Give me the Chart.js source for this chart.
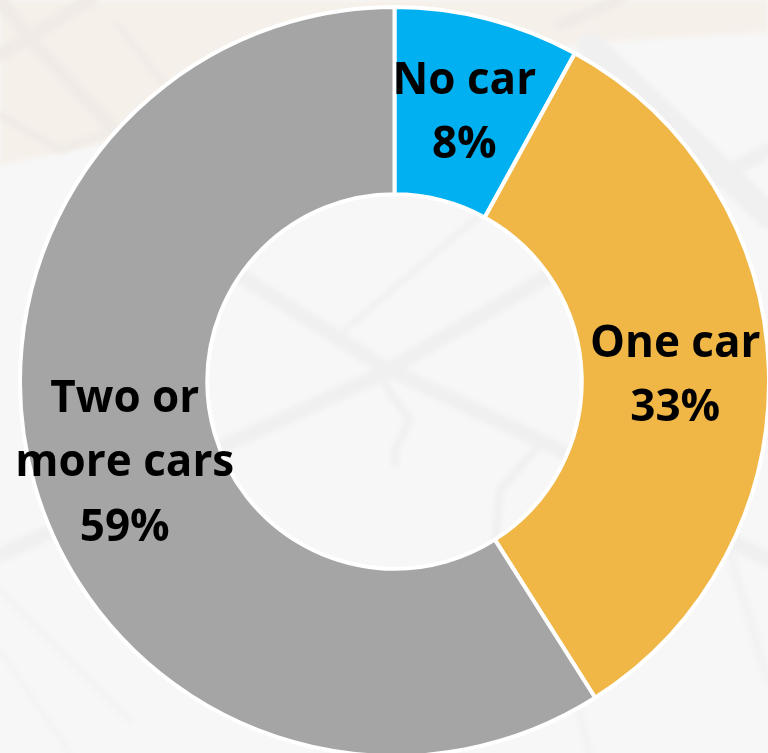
<!DOCTYPE html>
<html>
<head>
<meta charset="utf-8">
<title>Household car ownership</title>
<script src="https://cdn.jsdelivr.net/npm/chart.js@4"></script>
<style>
    html, body { margin: 0; padding: 0; background: #f7f7f7; overflow: hidden; }
    #wrap { position: relative; width: 768px; height: 753px; overflow: hidden; }
    #map, #chart { position: absolute; left: 0; top: 0; }
</style>
</head>
<body>
<div id="wrap">
    <!-- faded street map behind the chart -->
    <svg id="map" width="768" height="753" viewBox="0 0 768 753">
        <defs><filter id="soft"><feGaussianBlur stdDeviation="2.4"/></filter></defs>
        <rect width="768" height="753" fill="#f7f7f7"/>
        <path d="M0 0H768V32L600 42L480 60L300 110L70 150L0 165Z" fill="#f6f0ea" filter="url(#soft)"/>
        <g fill="none" stroke-linecap="round" stroke-linejoin="round" filter="url(#soft)">
            <g stroke="#f0ebe6">
                <path d="M0 0L35 45L110 125L200 215" stroke-width="14"/>
                <path d="M0 55L90 0" stroke-width="14"/>
                <path d="M0 115L60 150L120 128" stroke-width="8"/>
                <path d="M118 25L165 85" stroke-width="7"/>
                <path d="M620 0L560 25" stroke-width="12"/>
            </g>
            <g stroke="#f0f0f0">
                <path d="M200 250L380 365L570 455L768 560" stroke-width="15"/>
                <path d="M0 555L50 532L215 450L380 375L550 275L768 150" stroke-width="15"/>
                <path d="M345 330L480 215" stroke-width="6"/>
                <path d="M385 385L410 420L395 450V463" stroke-width="8"/>
                <path d="M535 450L500 490L495 545" stroke-width="8"/>
                <path d="M590 45L700 150L768 215" stroke-width="26"/>
            </g>
            <g stroke="#f3f3f3">
                <path d="M0 590L130 720" stroke-width="6"/>
                <path d="M0 650L70 753" stroke-width="5"/>
                <path d="M570 680L590 753" stroke-width="8"/>
                <path d="M720 520L768 680" stroke-width="10"/>
            </g>
        </g>
    </svg>
    <canvas id="chart" width="771" height="758"></canvas>
</div>
<script>
// Share of households by number of cars
const categories = ['No car', 'One car', 'Two or more cars'];
const shares = [8, 33, 59];
const sliceColors = ['#00b0f0', '#f0b747', '#a5a5a5'];
const sliceLabels = [
    ['No car', '8%'],
    ['One car', '33%'],
    ['Two or', 'more cars', '59%']
];

// Draw the text labels in the middle of each slice
const sliceLabelPlugin = {
    id: 'sliceLabels',
    afterDatasetsDraw(chart) {
        const ctx = chart.ctx;
        const arcs = chart.getDatasetMeta(0).data;
        const lineHeight = 64.5;
        ctx.save();
        ctx.fillStyle = '#000000';
        ctx.font = '700 44px "Open Sans"';
        ctx.textAlign = 'center';
        ctx.textBaseline = 'middle';
        arcs.forEach((arc, i) => {
            const center = arc.getCenterPoint();
            const lines = sliceLabels[i];
            const top = center.y + 4 - (lines.length - 1) * lineHeight / 2;
            lines.forEach((line, n) => {
                ctx.fillText(line, center.x, top + n * lineHeight);
            });
        });
        ctx.restore();
    }
};

new Chart(document.getElementById('chart'), {
    type: 'doughnut',
    data: {
        labels: categories,
        datasets: [{
            data: shares,
            backgroundColor: sliceColors,
            borderColor: '#ffffff',
            borderWidth: 4
        }]
    },
    options: {
        responsive: false,
        animation: false,
        cutout: '50%',
        layout: { padding: { left: 18, top: 5, right: 0, bottom: 0 } },
        plugins: {
            legend: { display: false },
            tooltip: { enabled: false }
        }
    },
    plugins: [sliceLabelPlugin]
});
</script>
</body>
</html>
